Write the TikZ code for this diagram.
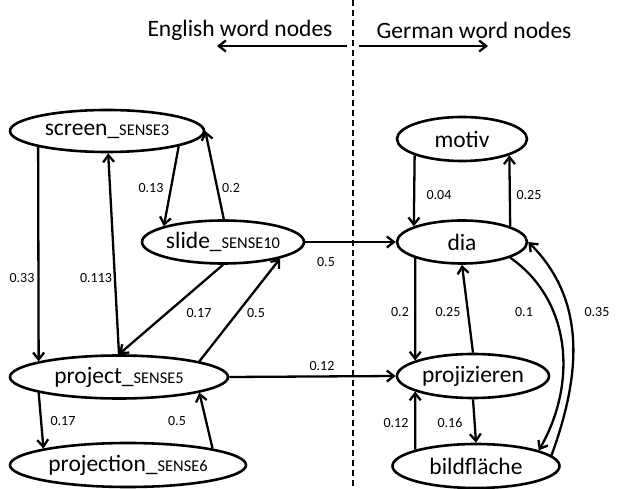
\documentclass[tikz,border=0pt]{standalone}
\usepackage{fontspec}
\setmainfont{Carlito}
\usetikzlibrary{shapes.geometric,arrows.meta}
\newcommand{\sense}[1]{\_{\fontsize{16.4}{18}\selectfont #1}}

\begin{document}
\begin{tikzpicture}[x=1pt,y=1pt,
        word/.style={draw, ellipse, line width=2.6pt, inner sep=0pt, font=\fontsize{23.5}{28}\selectfont},
        link/.style={line width=2.3pt, -{Straight Barb[length=7pt,width=11pt]}},
        weight/.style={font=\fontsize{14}{16}\selectfont}]
        \useasboundingbox (0,0) rectangle (619,488);

        % Divider and header
        \coordinate (top) at (353,488);
        \coordinate (bottom) at (353,0);
        \draw[line width=1.6pt, dash pattern=on 6pt off 4pt] (top) -- (bottom);
        \node[font=\fontsize{23.5}{28}\selectfont] (english) at (240,458) {English word nodes};
        \node[font=\fontsize{23.5}{28}\selectfont] (german) at (474,458) {German word nodes};
        \coordinate (enA) at (347,442);
        \coordinate (enB) at (217,442);
        \coordinate (deA) at (359,442);
        \coordinate (deB) at (488,442);
        \draw[link] (enA) -- (enB);
        \draw[link] (deA) -- (deB);

        % English nodes
        \node[word, minimum width=194pt, minimum height=42pt] (screen) at (107,357) {screen\sense{SENSE3}};
        \node[word, minimum width=162pt, minimum height=43pt] (slide) at (223,246) {slide\sense{SENSE10}};
        \node[word, minimum width=218pt, minimum height=43pt] (project) at (119,111) {project\sense{SENSE5}};
        \node[word, minimum width=236pt, minimum height=44pt] (projection) at (128,23) {projection\sense{SENSE6}};

        % German nodes
        \node[word, minimum width=130pt, minimum height=44pt] (motiv) at (462,349) {motiv};
        \node[word, minimum width=130pt, minimum height=43pt] (dia) at (462,246) {dia};
        \node[word, minimum width=152pt, minimum height=44pt] (projizieren) at (473,112) {projizieren};
        \node[word, minimum width=167pt, minimum height=44pt] (bildflache) at (476,22) {bildfläche};

        % Edges
        \draw[link] (screen.193) -- (project.169);
        \draw[link] (project.north) -- (screen.273);
        \draw[link] (screen.348) -- (slide.165);
        \draw[link] (slide.88) -- (screen.east);
        \draw[link] (slide.south) -- (project.north);
        \draw[link] (project.11) -- (slide.344);
        \draw[link] (slide.east) -- (dia.west);
        \draw[link] (project.east) -- (projizieren.west);
        \draw[link] (project.191) -- (projection.169);
        \draw[link] (projection.11) -- (project.349);
        \draw[link] (motiv.199) -- (dia.162);
        \draw[link] (dia.18) -- (motiv.341);
        \draw[link] (dia.199) -- (projizieren.165);
        \draw[link] (projizieren.north) -- (dia.south);
        \draw[link] (projizieren.south) -- (bildflache.north);
        \draw[link] (bildflache.165) -- (projizieren.195);
        \draw[link] (dia.342) to[out=-35, in=60] (bildflache.14);
        \draw[link] (bildflache.8) to[out=70, in=-45] (dia.east);

        % Weights
        \node[weight] (w1) at (22,210) {0.33};
        \node[weight] (w2) at (96,210) {0.113};
        \node[weight] (w3) at (151,300) {0.13};
        \node[weight] (w4) at (231,300) {0.2};
        \node[weight] (w5) at (199,175) {0.17};
        \node[weight] (w6) at (256,175) {0.5};
        \node[weight] (w7) at (326,226) {0.5};
        \node[weight] (w8) at (322,122) {0.12};
        \node[weight] (w9) at (63,67) {0.17};
        \node[weight] (w10) at (177,67) {0.5};
        \node[weight] (w11) at (439,293) {0.04};
        \node[weight] (w12) at (529,293) {0.25};
        \node[weight] (w13) at (400,176) {0.2};
        \node[weight] (w14) at (448,176) {0.25};
        \node[weight] (w15) at (524,176) {0.1};
        \node[weight] (w16) at (597,176) {0.35};
        \node[weight] (w17) at (396,65) {0.12};
        \node[weight] (w18) at (450,65) {0.16};

    \end{tikzpicture}
\end{document}
